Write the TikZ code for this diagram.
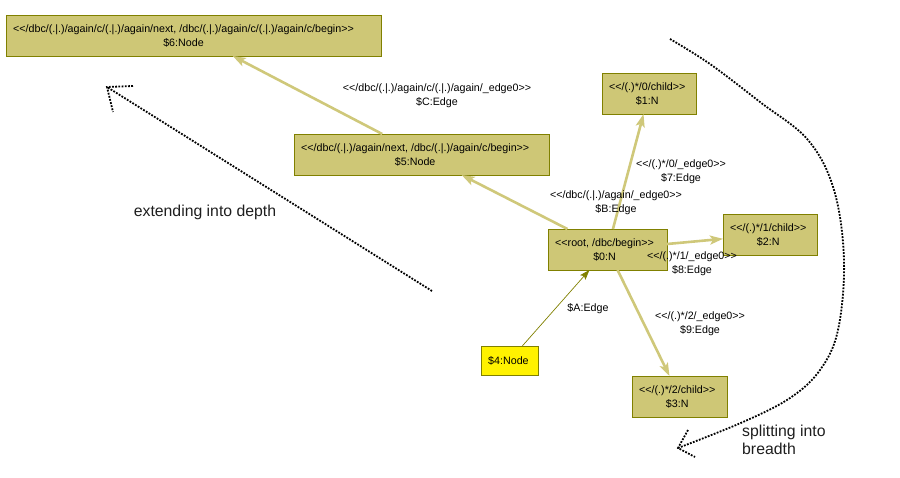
\documentclass[tikz,border=0pt]{standalone}
\usepackage{fontspec}
\setmainfont{Liberation Sans}[Ligatures=TeXOff]
\usetikzlibrary{arrows.meta}
\definecolor{boxfill}{RGB}{206,199,118}
\definecolor{boxline}{RGB}{128,128,0}
\definecolor{edgec}{RGB}{207,200,122}
\definecolor{hint}{RGB}{30,30,30}
\tikzset{
  elabel/.style={align=center, font=\fontsize{10.7}{14}\selectfont, inner sep=0pt},
  box/.style={draw=boxline, fill=boxfill, line width=0.8pt, rectangle, outer sep=0pt,
    minimum height=41pt, inner sep=0pt},
  boxtext/.style={label={[elabel, anchor=west, xshift=7pt]west:{#1}}},
  ybox/.style={box, fill=yellow, minimum height=29pt},
  edge/.style={draw=edgec, line width=2.6pt, -{Stealth[length=13pt,width=9pt,inset=3pt]}},
  thinedge/.style={draw=boxline, line width=0.7pt, -{Stealth[length=10pt,width=7pt,inset=2pt]}},
  dotline/.style={draw=black, line width=1.8pt, dash pattern=on 1.8pt off 1.4pt},
  bigtxt/.style={font=\fontsize{15.8}{18}\selectfont, text=hint, inner sep=0pt}
}
\begin{document}
\begin{tikzpicture}[x=1pt,y=-1pt]
\useasboundingbox (0,0) rectangle (900,477);
% nodes
\node[box, minimum width=375pt,
  boxtext={<</dbc/(.|.)/again/c/(.|.)/again/next, /dbc/(.|.)/again/c/(.|.)/again/c/begin>>\\\$6:Node}]
  (n6) at (193.5,35.5) {};
\node[box, minimum width=255pt,
  boxtext={<</dbc/(.|.)/again/next, /dbc/(.|.)/again/c/begin>>\\\$5:Node}]
  (n5) at (421.5,154.5) {};
\node[box, minimum width=119pt, boxtext={<<root, /dbc/begin>>\\\$0:N}]
  (n0) at (607.5,249.5) {};
\node[box, minimum width=94pt, boxtext={<</(.)*/0/child>>\\\$1:N}]
  (n1) at (649,93.5) {};
\node[box, minimum width=94pt, boxtext={<</(.)*/1/child>>\\\$2:N}]
  (n2) at (770,234.5) {};
\node[box, minimum width=95pt, boxtext={<</(.)*/2/child>>\\\$3:N}]
  (n3) at (679.5,396.5) {};
\node[ybox, minimum width=57pt, boxtext={\$4:Node}] (n4) at (509.5,360.5) {};
% edges
\draw[edge] (n5) -- (n6);
\draw[edge] (n0) -- (n5);
\draw[edge] (n0) -- (n1);
\draw[edge] (n0) -- (n2);
\draw[edge] (n0) -- (n3);
\draw[thinedge] (n4) -- (n0);
% edge labels
\node[elabel] (lC) at (437,96) {<</dbc/(.|.)/again/c/(.|.)/again/\_edge0>>\\\$C:Edge};
\node[elabel] (lB) at (616,203) {<</dbc/(.|.)/again/\_edge0>>\\\$B:Edge};
\node[elabel] (l7) at (681,172) {<</(.)*/0/\_edge0>>\\\$7:Edge};
\node[elabel] (l8) at (692,264) {<</(.)*/1/\_edge0>>\\\$8:Edge};
\node[elabel] (l9) at (700,324) {<</(.)*/2/\_edge0>>\\\$9:Edge};
\node[elabel] (lA) at (588,309) {\$A:Edge};
% hint arrows
\coordinate (ds) at (432,291);
\coordinate (dt) at (107,87);
\coordinate (da1) at (133,86);
\coordinate (da2) at (113,112);
\draw[dotline] (ds) -- (dt);
\draw[dotline] (da1) -- (dt) -- (da2);
\coordinate (bs) at (670,39);
\coordinate (bt) at (678,448);
\coordinate (ba1) at (688,430);
\coordinate (ba2) at (695,457);
\draw[dotline] plot[smooth, tension=0.6] coordinates {(670,39) (710,64) (760,102) (808,140) (834,190) (844,260) (838,330) (820,370) (790,398) (743,422) (678,448)};
\draw[dotline] (ba1) -- (bt) -- (ba2);
\node[bigtxt] (tdepth) at (205,212) {extending into depth};
\node[bigtxt, align=left, anchor=west] (tbreadth) at (742,440) {splitting into\\breadth};
\end{tikzpicture}
\end{document}
